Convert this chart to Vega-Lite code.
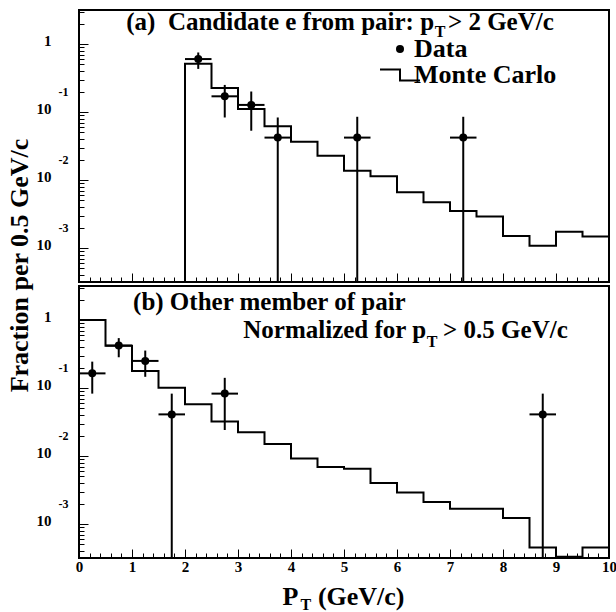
{
  "$schema": "https://vega.github.io/schema/vega-lite/v6.json",
  "padding": {"left": 5, "top": 0, "right": 0, "bottom": 2},
  "spacing": 4,
  "bounds": "flush",
  "config": {
    "font": "Liberation Serif",
    "view": {"stroke": "black", "strokeWidth": 2},
    "axis": {"domain": false, "grid": false, "zindex": 1, "labelFont": "Liberation Serif", "labelFontWeight": "bold", "labelFontSize": 15, "labelColor": "black", "tickColor": "black", "tickWidth": 1, "titleFont": "Liberation Serif", "titleFontWeight": "bold", "titleColor": "black", "labelOverlap": false, "labelFlush": false},
    "text": {"font": "Liberation Serif", "fontWeight": "bold", "fontSize": 25, "color": "black"},
    "legend": {"orient": "none", "legendX": 308, "legendY": 26, "title": null, "labelFont": "Liberation Serif", "labelFontSize": 26, "labelFontWeight": "bold", "labelColor": "black", "labelOffset": 1, "rowPadding": -2, "padding": 0, "symbolSize": 64}
  },
  "vconcat": [
    {
      "width": 530,
      "height": 272,
      "resolve": {"axis": {"y": "independent", "x": "independent"}},
      "layer": [
        {
          "data": {"values": [
            {"x": 2, "y": 0.0001}, {"x": 2, "y": 0.51}, {"x": 2.5, "y": 0.225}, {"x": 3, "y": 0.111}, {"x": 3.5, "y": 0.0615},
            {"x": 4, "y": 0.0366}, {"x": 4.5, "y": 0.0228}, {"x": 5, "y": 0.0137}, {"x": 5.5, "y": 0.0113}, {"x": 6, "y": 0.0066},
            {"x": 6.5, "y": 0.0047}, {"x": 7, "y": 0.0035}, {"x": 7.5, "y": 0.0029}, {"x": 8, "y": 0.0015}, {"x": 8.5, "y": 0.00108},
            {"x": 9, "y": 0.00173}, {"x": 9.5, "y": 0.00148}, {"x": 10, "y": 0.00148}
          ]},
          "mark": {"type": "line", "interpolate": "step-after", "color": "black", "strokeWidth": 2},
          "encoding": {
            "x": {"field": "x", "type": "quantitative", "scale": {"domain": [0, 10], "nice": false},
              "axis": {"values": [0,0.2,0.4,0.6,0.8,1,1.2,1.4,1.6,1.8,2,2.2,2.4,2.6,2.8,3,3.2,3.4,3.6,3.8,4,4.2,4.4,4.6,4.8,5,5.2,5.4,5.6,5.8,6,6.2,6.4,6.6,6.8,7,7.2,7.4,7.6,7.8,8,8.2,8.4,8.6,8.8,9,9.2,9.4,9.6,9.8,10],
                "labels": false, "title": null,
                "tickSize": {"condition": {"test": "datum.value % 1 == 0", "value": -9}, "value": -5}}},
            "y": {"field": "y", "type": "quantitative", "scale": {"type": "log", "domain": [0.000316, 3.16], "nice": false, "clamp": true},
              "axis": {"values": [0.0004,0.0005,0.0006,0.0007,0.0008,0.0009,0.001,0.002,0.003,0.004,0.005,0.006,0.007,0.008,0.009,0.01,0.02,0.03,0.04,0.05,0.06,0.07,0.08,0.09,0.1,0.2,0.3,0.4,0.5,0.6,0.7,0.8,0.9,1,2,3],
                "labelExpr": "abs(log(datum.value)/LN10-round(log(datum.value)/LN10))<1e-6 ? (datum.value>0.5 ? '1' : '10') : ''",
                "tickSize": {"condition": {"test": "abs(log(datum.value)/LN10-round(log(datum.value)/LN10))<1e-6", "value": -9}, "value": -5},
                "labelPadding": 37, "labelOffset": -3,
                "title": "Fraction per 0.5 GeV/c", "titleFontSize": 26, "titleX": -60, "titleY": 255, "titleAngle": -90, "titleAlign": "center", "titleBaseline": "middle"}},
            "order": {"value": null}
          }
        },
        {
          "data": {"values": [
            {"x": 2.25, "lo": 0.43, "hi": 0.75}, {"x": 2.75, "lo": 0.083, "hi": 0.25}, {"x": 3.25, "lo": 0.053, "hi": 0.2},
            {"x": 3.75, "lo": 0.0001, "hi": 0.083}, {"x": 5.25, "lo": 0.0001, "hi": 0.085}, {"x": 7.25, "lo": 0.0001, "hi": 0.085}
          ]},
          "mark": {"type": "rule", "color": "black", "strokeWidth": 2},
          "encoding": {
            "x": {"field": "x", "type": "quantitative", "axis": null},
            "y": {"field": "lo", "type": "quantitative",
              "axis": {"orient": "left", "values": [0.001, 0.01, 0.1], "labelExpr": "'-' + abs(round(log(datum.value)/LN10))", "ticks": false, "labelPadding": 11, "labelOffset": -20, "labelFontSize": 12, "title": null}},
            "y2": {"field": "hi"}
          }
        },
        {
          "data": {"values": [
            {"y": 0.6, "xlo": 2.0, "xhi": 2.5}, {"y": 0.17, "xlo": 2.5, "xhi": 3.0}, {"y": 0.127, "xlo": 3.0, "xhi": 3.5},
            {"y": 0.042, "xlo": 3.5, "xhi": 4.0}, {"y": 0.042, "xlo": 5.0, "xhi": 5.5}, {"y": 0.042, "xlo": 7.0, "xhi": 7.5}
          ]},
          "mark": {"type": "rule", "color": "black", "strokeWidth": 2},
          "encoding": {
            "x": {"field": "xlo", "type": "quantitative", "axis": null},
            "x2": {"field": "xhi"},
            "y": {"field": "y", "type": "quantitative", "axis": null}
          }
        },
        {
          "data": {"values": [
            {"series": "Data", "x": 2.25, "y": 0.6}, {"series": "Data", "x": 2.75, "y": 0.17}, {"series": "Data", "x": 3.25, "y": 0.127},
            {"series": "Data", "x": 3.75, "y": 0.042}, {"series": "Data", "x": 5.25, "y": 0.042}, {"series": "Data", "x": 7.25, "y": 0.042}
          ]},
          "mark": {"type": "point", "filled": true, "color": "black", "size": 64, "opacity": 1},
          "encoding": {
            "x": {"field": "x", "type": "quantitative", "axis": null},
            "y": {"field": "y", "type": "quantitative", "axis": null},
            "shape": {"field": "series", "type": "nominal",
              "scale": {"domain": ["Data", "Monte Carlo"], "range": ["circle", "M-5,-1.6H0.25V1.1H5V1.6H-0.25V-1.1H-5Z"]}}
          }
        },
        {
          "data": {"values": [{"x": 6.7, "y": 1.61, "t": "(a)\u00a0\u00a0Candidate e from pair: p"}]},
          "mark": {"type": "text", "align": "right", "baseline": "alphabetic"},
          "encoding": {"x": {"field": "x", "type": "quantitative", "axis": null}, "y": {"field": "y", "type": "quantitative", "axis": null}, "text": {"field": "t"}}
        },
        {
          "data": {"values": [{"x": 6.71, "y": 1.27, "t": "T"}]},
          "mark": {"type": "text", "align": "left", "baseline": "alphabetic", "fontSize": 16},
          "encoding": {"x": {"field": "x", "type": "quantitative", "axis": null}, "y": {"field": "y", "type": "quantitative", "axis": null}, "text": {"field": "t"}}
        },
        {
          "data": {"values": [{"x": 6.96, "y": 1.61, "t": "> 2 GeV/c"}]},
          "mark": {"type": "text", "align": "left", "baseline": "alphabetic"},
          "encoding": {"x": {"field": "x", "type": "quantitative", "axis": null}, "y": {"field": "y", "type": "quantitative", "axis": null}, "text": {"field": "t"}}
        }
      ]
    },
    {
      "width": 530,
      "height": 272,
      "resolve": {"axis": {"y": "independent", "x": "independent"}},
      "layer": [
        {
          "data": {"values": [
            {"x": 0, "y": 1.0}, {"x": 0.5, "y": 0.417}, {"x": 1, "y": 0.177}, {"x": 1.5, "y": 0.101}, {"x": 2, "y": 0.0575},
            {"x": 2.5, "y": 0.0321}, {"x": 3, "y": 0.0223}, {"x": 3.5, "y": 0.015}, {"x": 4, "y": 0.0092}, {"x": 4.5, "y": 0.0069},
            {"x": 5, "y": 0.0065}, {"x": 5.5, "y": 0.0040}, {"x": 6, "y": 0.0029}, {"x": 6.5, "y": 0.0021}, {"x": 7, "y": 0.00168},
            {"x": 7.5, "y": 0.00168}, {"x": 8, "y": 0.00122}, {"x": 8.5, "y": 0.00045}, {"x": 9, "y": 0.00033}, {"x": 9.5, "y": 0.00045},
            {"x": 10, "y": 0.00045}
          ]},
          "mark": {"type": "line", "interpolate": "step-after", "color": "black", "strokeWidth": 2},
          "encoding": {
            "x": {"field": "x", "type": "quantitative", "scale": {"domain": [0, 10], "nice": false},
              "axis": {"values": [0,0.2,0.4,0.6,0.8,1,1.2,1.4,1.6,1.8,2,2.2,2.4,2.6,2.8,3,3.2,3.4,3.6,3.8,4,4.2,4.4,4.6,4.8,5,5.2,5.4,5.6,5.8,6,6.2,6.4,6.6,6.8,7,7.2,7.4,7.6,7.8,8,8.2,8.4,8.6,8.8,9,9.2,9.4,9.6,9.8,10],
                "labelExpr": "datum.value % 1 == 0 ? format(datum.value, 'd') : ''",
                "labelPadding": 10,
                "tickSize": {"condition": {"test": "datum.value % 1 == 0", "value": -9}, "value": -5},
                "title": "P\u00a0\u00a0\u00a0(GeV/c)", "titleFontSize": 26, "titleX": 203, "titleY": 46, "titleAlign": "left", "titleBaseline": "alphabetic"}},
            "y": {"field": "y", "type": "quantitative", "scale": {"type": "log", "domain": [0.000316, 3.16], "nice": false, "clamp": true},
              "axis": {"values": [0.0004,0.0005,0.0006,0.0007,0.0008,0.0009,0.001,0.002,0.003,0.004,0.005,0.006,0.007,0.008,0.009,0.01,0.02,0.03,0.04,0.05,0.06,0.07,0.08,0.09,0.1,0.2,0.3,0.4,0.5,0.6,0.7,0.8,0.9,1,2,3],
                "labelExpr": "abs(log(datum.value)/LN10-round(log(datum.value)/LN10))<1e-6 ? (datum.value>0.5 ? '1' : '10') : ''",
                "tickSize": {"condition": {"test": "abs(log(datum.value)/LN10-round(log(datum.value)/LN10))<1e-6", "value": -9}, "value": -5},
                "labelPadding": 37, "labelOffset": -3, "title": null}},
            "order": {"value": null}
          }
        },
        {
          "data": {"values": [
            {"x": 0.25, "lo": 0.0826, "hi": 0.244}, {"x": 0.75, "lo": 0.283, "hi": 0.541}, {"x": 1.25, "lo": 0.146, "hi": 0.355},
            {"x": 1.75, "lo": 0.0001, "hi": 0.0826}, {"x": 2.75, "lo": 0.0241, "hi": 0.141}, {"x": 8.75, "lo": 0.0001, "hi": 0.0826}
          ]},
          "mark": {"type": "rule", "color": "black", "strokeWidth": 2},
          "encoding": {
            "x": {"field": "x", "type": "quantitative",
              "axis": {"orient": "bottom", "labels": false, "ticks": false, "title": "T", "titleFontSize": 16, "titleX": 221, "titleY": 51, "titleAlign": "left", "titleBaseline": "alphabetic"}},
            "y": {"field": "lo", "type": "quantitative",
              "axis": {"orient": "left", "values": [0.001, 0.01, 0.1], "labelExpr": "'-' + abs(round(log(datum.value)/LN10))", "ticks": false, "labelPadding": 11, "labelOffset": -20, "labelFontSize": 12, "title": null}},
            "y2": {"field": "hi"}
          }
        },
        {
          "data": {"values": [
            {"y": 0.164, "xlo": 0.0, "xhi": 0.5}, {"y": 0.421, "xlo": 0.5, "xhi": 1.0}, {"y": 0.25, "xlo": 1.0, "xhi": 1.5},
            {"y": 0.0409, "xlo": 1.5, "xhi": 2.0}, {"y": 0.0826, "xlo": 2.5, "xhi": 3.0}, {"y": 0.0409, "xlo": 8.5, "xhi": 9.0}
          ]},
          "mark": {"type": "rule", "color": "black", "strokeWidth": 2},
          "encoding": {
            "x": {"field": "xlo", "type": "quantitative", "axis": null},
            "x2": {"field": "xhi"},
            "y": {"field": "y", "type": "quantitative", "axis": null}
          }
        },
        {
          "data": {"values": [
            {"x": 0.25, "y": 0.164}, {"x": 0.75, "y": 0.421}, {"x": 1.25, "y": 0.25},
            {"x": 1.75, "y": 0.0409}, {"x": 2.75, "y": 0.0826}, {"x": 8.75, "y": 0.0409}
          ]},
          "mark": {"type": "point", "filled": true, "color": "black", "size": 64, "opacity": 1},
          "encoding": {
            "x": {"field": "x", "type": "quantitative", "axis": null},
            "y": {"field": "y", "type": "quantitative", "axis": null}
          }
        },
        {
          "data": {"values": [{"x": 1.02, "y": 1.4, "t": "(b) Other member of pair"}]},
          "mark": {"type": "text", "align": "left", "baseline": "alphabetic"},
          "encoding": {"x": {"field": "x", "type": "quantitative", "axis": null}, "y": {"field": "y", "type": "quantitative", "axis": null}, "text": {"field": "t"}}
        },
        {
          "data": {"values": [{"x": 6.55, "y": 0.538, "t": "Normalized for p"}]},
          "mark": {"type": "text", "align": "right", "baseline": "alphabetic"},
          "encoding": {"x": {"field": "x", "type": "quantitative", "axis": null}, "y": {"field": "y", "type": "quantitative", "axis": null}, "text": {"field": "t"}}
        },
        {
          "data": {"values": [{"x": 6.56, "y": 0.405, "t": "T"}]},
          "mark": {"type": "text", "align": "left", "baseline": "alphabetic", "fontSize": 16},
          "encoding": {"x": {"field": "x", "type": "quantitative", "axis": null}, "y": {"field": "y", "type": "quantitative", "axis": null}, "text": {"field": "t"}}
        },
        {
          "data": {"values": [{"x": 6.87, "y": 0.538, "t": "> 0.5 GeV/c"}]},
          "mark": {"type": "text", "align": "left", "baseline": "alphabetic"},
          "encoding": {"x": {"field": "x", "type": "quantitative", "axis": null}, "y": {"field": "y", "type": "quantitative", "axis": null}, "text": {"field": "t"}}
        }
      ]
    }
  ]
}
